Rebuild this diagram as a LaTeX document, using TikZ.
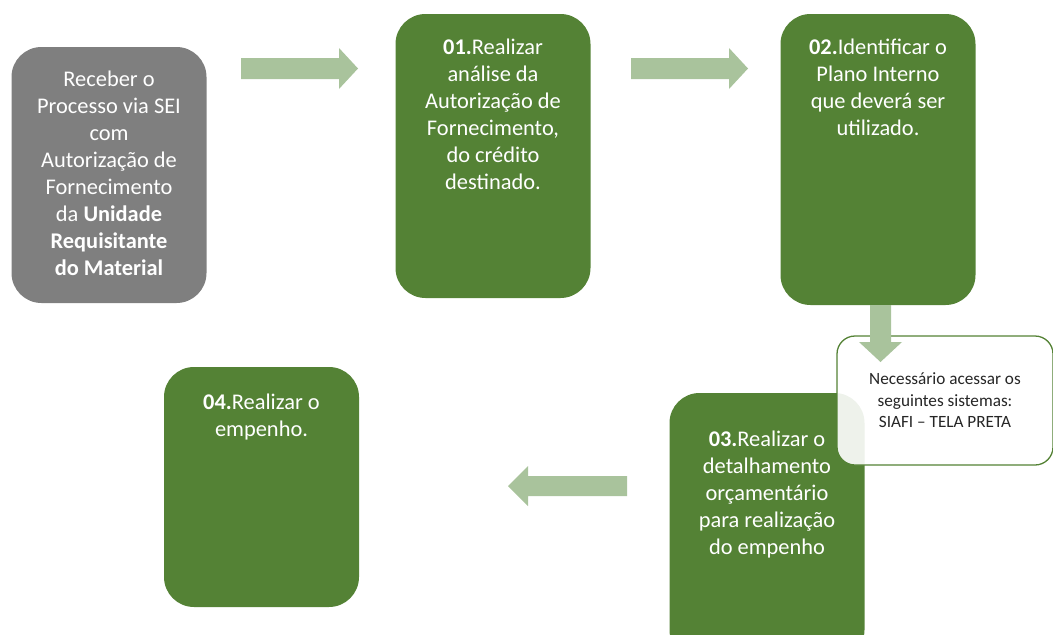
\documentclass[tikz,border=0pt]{standalone}
\usepackage{fontspec}
\setmainfont{Carlito}
\definecolor{boxgreen}{HTML}{548235}
\definecolor{boxgray}{HTML}{7F7F7F}
\definecolor{arrowgreen}{HTML}{A9C39C}
\definecolor{calltext}{HTML}{262626}
\tikzset{
  gbox/.style={fill=boxgreen, draw=none, rounded corners=30pt, minimum width=195pt, inner sep=0pt},
  graybox/.style={fill=boxgray, draw=none, rounded corners=30pt, minimum width=195pt, minimum height=256pt, inner sep=0pt},
  btext/.style={text=white, align=center, inner sep=0pt, font=\fontsize{22.4}{27}\selectfont},
  barrow/.style={fill=arrowgreen, draw=none},
  callout/.style={draw=boxgreen, line width=1.3pt, fill=white, fill opacity=0.9, rounded corners=18pt, minimum width=216pt, minimum height=129pt, inner sep=0pt},
  ctext/.style={text=calltext, align=center, inner sep=0pt, font=\fontsize{17.2}{21.5}\selectfont}
}
\begin{document}
\begin{tikzpicture}[x=1pt,y=-1pt]
\useasboundingbox (0,0) rectangle (1053,635);
\clip (0,0) rectangle (1053,635);
% boxes
\node[graybox] (b0) at (109,175) {};
\node[gbox, minimum height=284pt] (b1) at (493,156) {};
\node[gbox, minimum height=291pt] (b2) at (878,159.5) {};
\node[gbox, minimum height=267pt] (b3) at (767,526.5) {};
\node[gbox, minimum height=240pt] (b4) at (261.5,487) {};
% texts
\node[btext] (t0) at ([yshift=1.5pt]b0.center) {Receber o\\Processo via SEI\\com\\Autorização de\\Fornecimento\\da \textbf{Unidade}\\\textbf{Requisitante}\\\textbf{do Material}};
\node[btext, anchor=north] (t1) at ([yshift=-25pt]b1.north) {\textbf{01.}Realizar\\análise da\\Autorização de\\Fornecimento,\\do crédito\\destinado.};
\node[btext, anchor=north] (t2) at ([yshift=-25pt]b2.north) {\textbf{02.}Identificar o\\Plano Interno\\que deverá ser\\utilizado.};
\node[btext, anchor=north] (t3) at ([yshift=-38pt]b3.north) {\textbf{03.}Realizar o\\detalhamento\\orçamentário\\para realização\\do empenho};
\node[btext, anchor=north] (t4) at ([yshift=-27pt]b4.north) {\textbf{04.}Realizar o\\empenho.};
% callout
\node[callout] (c) at (945,400.5) {};
\node[ctext] (ct) at ([yshift=0pt]c.center) {Necessário acessar os\\seguintes sistemas:\\SIAFI – TELA PRETA};
% block arrows
\fill[barrow] (241,58) -- (339,58) -- (339,48) -- (358,68.5) -- (339,89) -- (339,79) -- (241,79) -- cycle;
\fill[barrow] (631,58) -- (729,58) -- (729,48) -- (748,68.5) -- (729,89) -- (729,79) -- (631,79) -- cycle;
\fill[barrow] (870,305) -- (891,305) -- (891,342) -- (902,342) -- (880.5,362) -- (859,342) -- (870,342) -- cycle;
\fill[barrow] (627,476) -- (528,476) -- (528,466) -- (508,486) -- (528,506) -- (528,496) -- (627,496) -- cycle;
\end{tikzpicture}
\end{document}
